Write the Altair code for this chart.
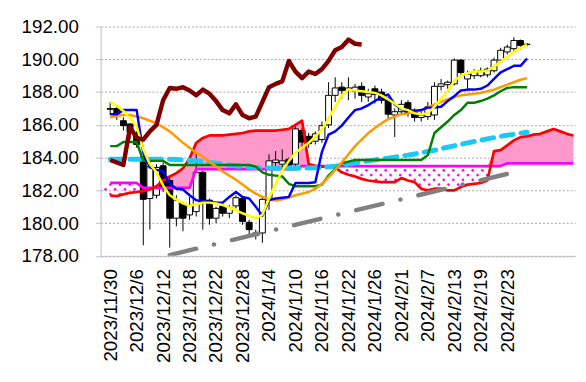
import json
import numpy as np
import pandas as pd
import altair as alt

# ---- axis ticks / labels ----
tick_index = [0, 4, 8, 12, 16, 20, 24, 28, 32, 36, 40, 44, 48, 52, 56, 60]
tick_labels = ["2023/11/30", "2023/12/6", "2023/12/12", "2023/12/18", "2023/12/22",
               "2023/12/28", "2024/1/4", "2024/1/10", "2024/1/16", "2024/1/22",
               "2024/1/26", "2024/2/1", "2024/2/7", "2024/2/13", "2024/2/19", "2024/2/23"]
y_ticks = [178, 180, 182, 184, 186, 188, 190, 192]

# ---- candles ----
opens = [187.0, 187.0, 186.25, 186.05, 185.5, 184.05, 181.5, 181.7, 183.5, 182.6,
         180.3, 181.2, 180.5, 180.7, 183.1, 181.4, 180.3, 181.05, 180.6, 181.05,
         181.5, 180.05, 179.4, 179.4, 181.4, 183.7, 183.6, 183.9, 183.6, 185.65,
         185.3, 185.0, 185.1, 186.0, 187.8, 188.3, 188.1, 188.05, 188.35, 187.7,
         188.2, 188.0, 187.55, 186.6, 186.8, 187.35, 186.9, 186.45, 186.5, 186.6,
         188.35, 188.45, 188.5, 189.95, 188.8, 189.0, 189.0, 189.05, 189.3, 189.95,
         190.45, 190.65, 191.15, 190.9]
closes = [186.95, 186.65, 185.95, 185.55, 184.8, 181.45, 183.45, 183.4, 182.1, 180.3,
          181.4, 180.3, 181.1, 183.1, 181.4, 180.3, 180.9, 180.6, 180.95, 181.55,
          180.1, 179.6, 179.3, 181.45, 183.8, 183.85, 183.8, 183.55, 185.75, 184.95,
          184.85, 185.45, 185.95, 187.8, 188.25, 188.1, 188.25, 188.3, 187.8, 187.9,
          187.85, 187.5, 186.65, 186.8, 187.25, 186.7, 186.45, 186.6, 187.1, 188.35,
          188.5, 188.6, 189.95, 189.2, 189.1, 189.25, 189.3, 189.4, 189.95, 190.55,
          190.75, 191.15, 190.85, 190.92]
highs = [187.4, 187.15, 186.45, 186.1, 185.6, 184.1, 184.0, 183.6, 183.7, 182.8,
         181.7, 181.3, 181.6, 184.3, 183.2, 181.5, 181.0, 181.2, 181.1, 181.7,
         181.6, 180.2, 179.6, 181.6, 184.2, 184.4, 184.5, 184.0, 186.0, 185.8,
         185.5, 185.6, 186.2, 188.6, 188.9, 188.6, 188.9, 188.5, 188.6, 188.2,
         188.4, 188.2, 187.7, 187.0, 187.5, 187.5, 187.0, 186.9, 187.4, 188.6,
         188.8, 188.7, 190.05, 190.0, 189.3, 189.4, 189.5, 189.5, 190.1, 190.7,
         190.9, 191.35, 191.2, 191.0]
lows = [186.6, 186.3, 185.65, 185.1, 184.6, 178.65, 179.6, 181.5, 181.9, 178.5,
        179.8, 179.5, 180.2, 180.4, 179.6, 179.9, 180.0, 180.4, 180.3, 180.9,
        179.9, 179.1, 179.0, 178.8, 180.8, 183.4, 183.4, 183.4, 183.4, 184.5,
        184.6, 184.8, 184.9, 185.8, 187.4, 187.6, 187.5, 187.6, 187.4, 187.4,
        187.3, 187.3, 186.4, 185.25, 186.6, 186.5, 186.2, 186.2, 186.3, 186.3,
        188.1, 188.2, 188.4, 189.0, 188.05, 188.8, 188.9, 188.9, 189.2, 189.8,
        190.3, 190.5, 190.6, 190.8]

# ---- indicator lines ----
tenkan = [186.65, 186.65, 186.9, 186.9, 186.9, 184.3, 183.4, 183.25, 183.15, 182.4,
          182.1, 182.05, 181.7, 181.4, 181.3, 181.3, 181.25, 181.25, 181.6, 181.9,
          181.6, 181.5, 181.0, 180.45, 181.4, 181.5, 181.55, 181.6, 182.45, 182.45,
          182.45, 182.5, 184.35, 185.4, 185.6, 185.95, 186.45, 186.9, 187.0, 187.2,
          187.45, 187.7, 187.85, 187.25, 186.95, 186.9, 186.85, 186.9, 187.05, 187.05,
          187.1, 187.45, 187.75, 188.1, 188.15, 188.15, 188.2, 188.4, 188.8, 189.2,
          189.4, 189.6, 189.6, 190.05]
kijun = [184.7, 184.7, 184.95, 184.95, 184.95, 183.8, 183.8, 183.8, 183.8, 183.55,
         183.55, 183.55, 183.55, 183.55, 183.55, 183.55, 183.55, 183.55, 183.55, 183.55,
         183.55, 183.55, 183.45, 183.1, 182.95, 182.9, 182.85, 182.4, 182.25, 182.25,
         182.25, 182.25, 182.35, 182.9, 183.3, 183.65, 183.75, 183.85, 183.85, 183.85,
         183.85, 183.85, 183.85, 183.85, 183.85, 183.85, 183.85, 183.85, 184.15, 185.5,
         185.85, 186.2, 186.6, 186.9, 187.35, 187.35, 187.45, 187.6, 187.8, 188.05,
         188.25, 188.3, 188.3, 188.3]
ma_short = [187.4, 187.15, 186.85, 186.4, 185.9, 184.5, 183.6, 183.1, 182.3, 181.7,
            181.45, 181.2, 181.05, 181.15, 181.25, 181.25, 181.2, 181.1, 180.95, 180.8,
            180.6, 180.45, 180.3, 180.5, 181.5, 182.4, 183.2, 183.8, 184.3, 184.6,
            184.9, 185.3, 185.7, 186.4, 187.1, 187.8, 188.15, 188.1, 188.05, 188.0,
            187.95, 187.8, 187.55, 187.3, 187.0, 186.9, 186.7, 186.65, 186.7, 187.1,
            187.6, 188.05, 188.7, 189.0, 189.15, 189.25, 189.25, 189.3, 189.55, 189.85,
            190.15, 190.45, 190.7, 190.9]
ma_mid = [186.45, 186.55, 186.6, 186.6, 186.5, 186.4, 186.25, 186.1, 185.85, 185.6,
          185.25, 184.9, 184.6, 184.3, 184.05, 183.75, 183.45, 183.15, 182.9, 182.65,
          182.35, 182.05, 181.8, 181.6, 181.45, 181.38, 181.45, 181.55, 181.7, 181.8,
          181.9, 182.1, 182.4, 182.8, 183.25, 183.7, 184.2, 184.7, 185.1, 185.5,
          185.8, 186.1, 186.35, 186.5, 186.65, 186.7, 186.8, 186.9, 187.05, 187.25,
          187.4, 187.55, 187.7, 187.8, 187.85, 187.9, 187.95, 188.05, 188.15, 188.3,
          188.45, 188.6, 188.75, 188.85]
ma_long = [183.9, 183.9, 183.9, 183.9, 183.9, 183.9, 183.9, 183.9, 183.9, 183.9,
           183.88, 183.86, 183.83, 183.8, 183.76, 183.71, 183.66, 183.6, 183.55, 183.5,
           183.46, 183.42, 183.39, 183.37, 183.36, 183.35, 183.35, 183.35, 183.35, 183.35,
           183.36, 183.38, 183.4, 183.43, 183.47, 183.53, 183.6, 183.67, 183.74, 183.8,
           183.86, 183.92, 183.97, 184.03, 184.09, 184.15, 184.22, 184.3, 184.37, 184.45,
           184.54, 184.63, 184.72, 184.81, 184.9, 184.98, 185.06, 185.14, 185.22, 185.3,
           185.36, 185.42, 185.49, 185.55]
chikou = [183.85, 183.7, 183.55, 185.85, 185.2, 185.1, 185.6, 186.0, 187.5, 188.25,
          188.2, 188.3, 188.1, 187.8, 188.15, 187.9, 187.45, 186.9, 186.7, 187.25,
          186.6, 186.4, 186.5, 187.4, 188.3, 188.5, 188.65, 189.9, 189.25, 188.85,
          189.25, 189.1, 189.4, 189.9, 190.55, 190.75, 191.2, 190.95, 190.9]
span_a = [181.68, 181.65, 181.75, 181.85, 181.9, 181.95, 182.05, 182.25, 182.6, 182.85,
          183.05, 183.35, 183.95, 184.9, 185.2, 185.35, 185.35, 185.35, 185.4, 185.45,
          185.5, 185.6, 185.65, 185.65, 185.65, 185.65, 185.7, 185.75, 186.0, 186.25,
          183.6, 183.5, 183.45, 183.45, 183.4, 183.1, 182.95, 182.85, 182.7, 182.6,
          182.55, 182.5, 182.5, 182.5, 182.75, 182.6, 182.5, 182.1, 182.0, 182.1,
          182.1, 182.0, 182.0, 182.2, 182.35, 182.4, 182.45, 182.6, 184.4, 184.45,
          184.75, 185.05, 185.25, 185.3, 185.4, 185.45, 185.6, 185.75, 185.6, 185.45,
          185.35]
span_b = ([182.45] * 5 + [182.15] * 8 + [183.3] * 16 + [183.48] * 31 + [183.65] * 11)
trend_index = [9, 62]
trend_value = [178.05, 183.2]

# ---- tables ----
n = len(opens)
candles = pd.DataFrame({"i": list(range(n)), "o": opens, "h": highs, "l": lows, "c": closes})
candles["body"] = np.where(candles["c"] >= candles["o"], "up", "down")

m = len(span_a)
cloud = pd.DataFrame({"i": list(range(m)), "a": span_a, "b": span_b})
cloud["top"] = np.maximum(cloud["a"], cloud["b"])

# dotted texture for the part of the cloud where span B is above span A
ai = np.arange(m, dtype=float)
dots = []
for k, yv in enumerate(np.arange(178.0, 192.0, 0.29)):
    xs = np.arange(-0.7 + (k % 2) * 0.73, 69.5, 1.46)
    A = np.interp(xs, ai, span_a)
    B = np.interp(xs, ai, span_b)
    ok = (yv < B - 0.05) & (yv > A + 0.06)
    for xv in xs[ok]:
        dots.append({"i": float(xv), "v": float(yv)})
dots = pd.DataFrame(dots)

def series(vals):
    return pd.DataFrame({"i": list(range(len(vals))), "v": vals})

# ---- scales / axes ----
FONT = "Liberation Sans"
x_scale = alt.Scale(domain=[-0.7, 69.5], nice=False, zero=False)
y_scale = alt.Scale(domain=[178, 192], nice=False, zero=False)
label_js = json.dumps(tick_labels)
x_axis = alt.Axis(values=tick_index, labelExpr=f"{label_js}[round(datum.value/4)]",
                  labelAngle=270, labelAlign="right", labelBaseline="middle",
                  labelFontSize=19, labelFont=FONT, labelColor="#000000",
                  labelPadding=13, ticks=False, grid=False, domainColor="#BFBFBF",
                  domainWidth=1, title=None, labelOverlap=False, labelFlush=False,
                  labelBound=False)
y_axis = alt.Axis(values=y_ticks, format=".2f", labelFontSize=19, labelFont=FONT,
                  labelColor="#000000", labelPadding=17.5, tickSize=5,
                  tickColor="#BFBFBF", domainColor="#BFBFBF", grid=True,
                  gridColor="#A6A6A6", gridDash=[2, 2], gridWidth=1, title=None)

def X(f="i"):
    return alt.X(f, type="quantitative", scale=x_scale, axis=x_axis)

def Y(f):
    return alt.Y(f, type="quantitative", scale=y_scale, axis=y_axis)

cloud_fill = alt.Chart(cloud).mark_area(color="#FF99CC", clip=True).encode(
    x=X(), y=Y("top"), y2=alt.Y2("b"))
cloud_dots = alt.Chart(dots).mark_circle(color="#FF00FF", size=7, opacity=1, clip=True).encode(
    x=X(), y=Y("v"))

wicks = alt.Chart(candles).mark_rule(color="#000000", strokeWidth=1, clip=True).encode(
    x=X(), y=Y("l"), y2=alt.Y2("h"))
bodies = alt.Chart(candles).mark_bar(size=6, orient="vertical", stroke="#000000",
                                     strokeWidth=1, clip=True).encode(
    x=X(), y=Y("o"), y2=alt.Y2("c"),
    fill=alt.Fill("body:N", scale=alt.Scale(domain=["up", "down"], range=["#FFFFFF", "#000000"]),
                  legend=None))

def line(vals, color, width, dash=None, cap="butt"):
    kw = dict(color=color, strokeWidth=width, clip=True, strokeCap=cap, strokeJoin="round")
    if dash:
        kw["strokeDash"] = dash
    return alt.Chart(series(vals)).mark_line(**kw).encode(x=X(), y=Y("v"))

layers = [
    cloud_fill, cloud_dots, wicks, bodies,
    line(span_b, "#FF00FF", 2.75),
    line(span_a, "#FF0000", 2.75),
    line(ma_long, "#1EC8F5", 5, [12, 8], "round"),
    line(kijun, "#008000", 2.5),
    line(ma_mid, "#FF9900", 2.5),
    line(tenkan, "#0000FF", 2.5),
    line(ma_short, "#FFFF00", 2.5),
    line(chikou, "#800000", 4.5),
    alt.Chart(pd.DataFrame({"i": trend_index, "v": trend_value})).mark_line(
        color="#808080", strokeWidth=4.5, strokeDash=[27.5, 18.6, 0.1, 18.6],
        strokeCap="round", clip=True).encode(x=X(), y=Y("v")),
]

chart = alt.layer(*layers).properties(
    width=481, height=232.5,
    padding={"left": 93.9, "top": 16.3, "right": 3, "bottom": 112},
    autosize=alt.AutoSizeParams(type="none"),
    background="#FFFFFF",
).configure_view(strokeWidth=0)

chart.save("out.html", embed_options={"renderer": "svg", "actions": False})
